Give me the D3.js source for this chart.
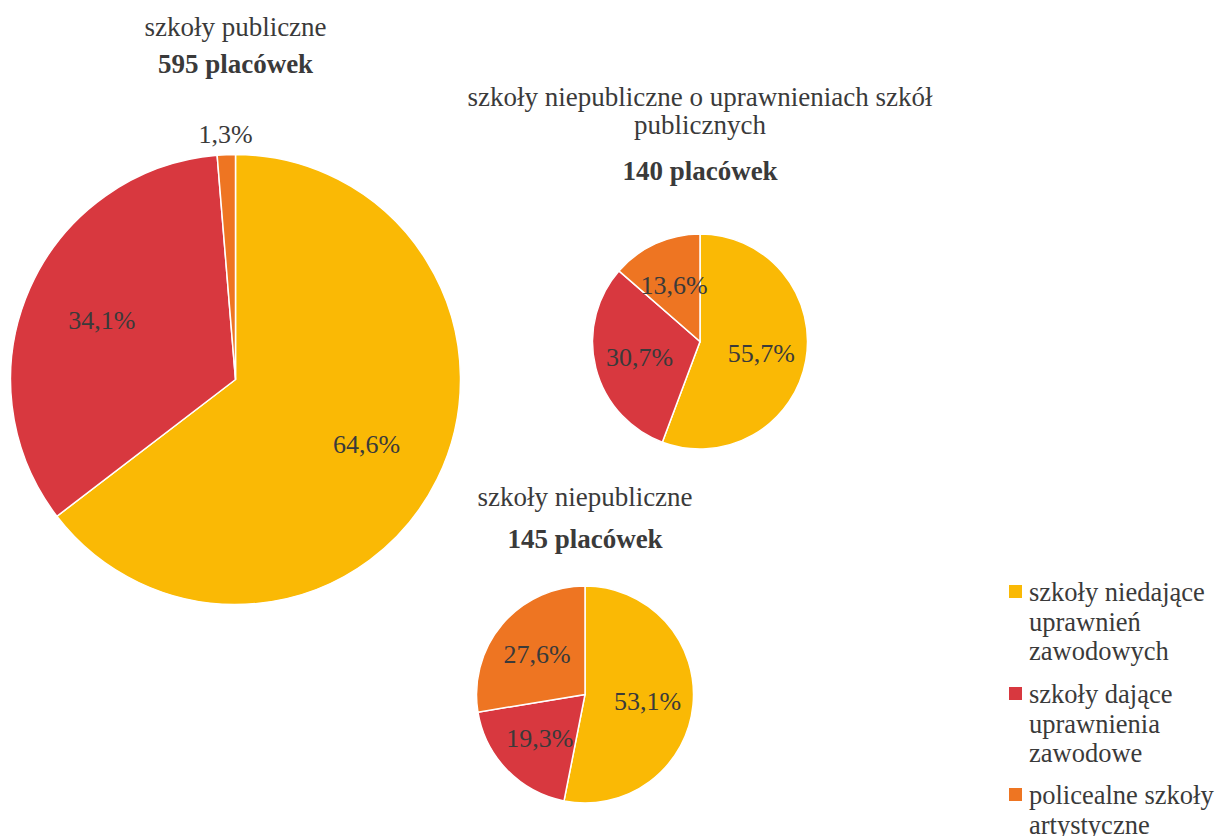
<!DOCTYPE html>
<html>
<head>
<meta charset="utf-8">
<script src="https://cdn.jsdelivr.net/npm/d3@7"></script>
<style>
  html, body { margin: 0; padding: 0; background: #fff; }
  svg { display: block; }
</style>
</head>
<body>
<svg id="chart" width="1216" height="836"></svg>
<script>
// ---- data ----
const categories = ["szkoły niedające uprawnień zawodowych", "szkoły dające uprawnienia zawodowe", "policealne szkoły artystyczne"];
const legendLines = [["szkoły niedające", "uprawnień", "zawodowych"], ["szkoły dające", "uprawnienia", "zawodowe"], ["policealne szkoły", "artystyczne"]];
const colors = ["#FAB905", "#D8383F", "#EE7522"];

const pieTitles = [
  ["szkoły publiczne"],
  ["szkoły niepubliczne o uprawnieniach szkół", "publicznych"],
  ["szkoły niepubliczne"]
];
const pieCounts = ["595 placówek", "140 placówek", "145 placówek"];
const valuesPublic = [64.6, 34.1, 1.3];
const valuesNonpublicRights = [55.7, 30.7, 13.6];
const valuesNonpublic = [53.1, 19.3, 27.6];
const seriesValues = [valuesPublic, valuesNonpublicRights, valuesNonpublic];

// ---- layout ----
const FONT = "'Liberation Serif', 'Times New Roman', Times, serif";
const layout = [
  { cx: 235.5, cy: 379.5, r: 225, titleY: [36], countY: 73, labelFrac: 0.65 },
  { cx: 700, cy: 341.5, r: 107.5, titleY: [106, 134], countY: 180, labelFrac: 0.58 },
  { cx: 585, cy: 694.5, r: 108.5, titleY: [506], countY: 548, labelFrac: 0.58 }
];

const svg = d3.select("#chart");
const textColor = "#3a3a3a";
const fmt = v => d3.format(".1f")(v).replace(".", ",") + "%";

const pie = d3.pie().sort(null).value(d => d);

seriesValues.forEach((vals, i) => {
  const L = layout[i];
  const g = svg.append("g").attr("transform", `translate(${L.cx},${L.cy})`);
  const arc = d3.arc().innerRadius(0).outerRadius(L.r);
  const labelArc = d3.arc().innerRadius(L.r * L.labelFrac).outerRadius(L.r * L.labelFrac);
  const arcs = pie(vals);

  g.selectAll("path").data(arcs).join("path")
    .attr("d", arc)
    .attr("fill", (d, j) => colors[j])
    .attr("stroke", "#fff")
    .attr("stroke-width", 1.5);

  g.selectAll("text.lbl").data(arcs).join("text")
    .attr("class", "lbl")
    .attr("transform", d => {
      if (d.value < 5) {
        const a = (d.startAngle + d.endAngle) / 2;
        const rr = L.r + 21;
        return `translate(${Math.sin(a) * rr},${-Math.cos(a) * rr})`;
      }
      const c = labelArc.centroid(d);
      return `translate(${c[0]},${c[1]})`;
    })
    .attr("text-anchor", "middle")
    .attr("dy", "0.35em")
    .style("font-family", FONT)
    .style("font-size", "26px")
    .attr("fill", textColor)
    .text(d => fmt(d.value));

  // titles
  pieTitles[i].forEach((t, k) => {
    svg.append("text")
      .attr("x", L.cx).attr("y", L.titleY[k])
      .attr("text-anchor", "middle")
      .style("font-family", FONT)
      .style("font-size", "27px")
      .attr("fill", textColor)
      .text(t);
  });
  svg.append("text")
    .attr("x", L.cx).attr("y", L.countY)
    .attr("text-anchor", "middle")
    .style("font-family", FONT)
    .style("font-size", "27px")
    .style("font-weight", "bold")
    .attr("fill", textColor)
    .text(pieCounts[i]);
});

// ---- legend ----
const leg = svg.append("g").attr("transform", "translate(1009,0)");
const entryY = [601, 703, 804];
categories.forEach((c, i) => {
  const y0 = entryY[i];
  leg.append("rect")
    .attr("x", 0).attr("y", y0 - 16)
    .attr("width", 13).attr("height", 13)
    .attr("fill", colors[i]);
  legendLines[i].forEach((line, k) => {
    leg.append("text")
      .attr("x", 20).attr("y", y0 + k * 29.5)
      .style("font-family", FONT)
      .style("font-size", "26.5px")
      .attr("fill", textColor)
      .text(line);
  });
});
</script>
</body>
</html>
